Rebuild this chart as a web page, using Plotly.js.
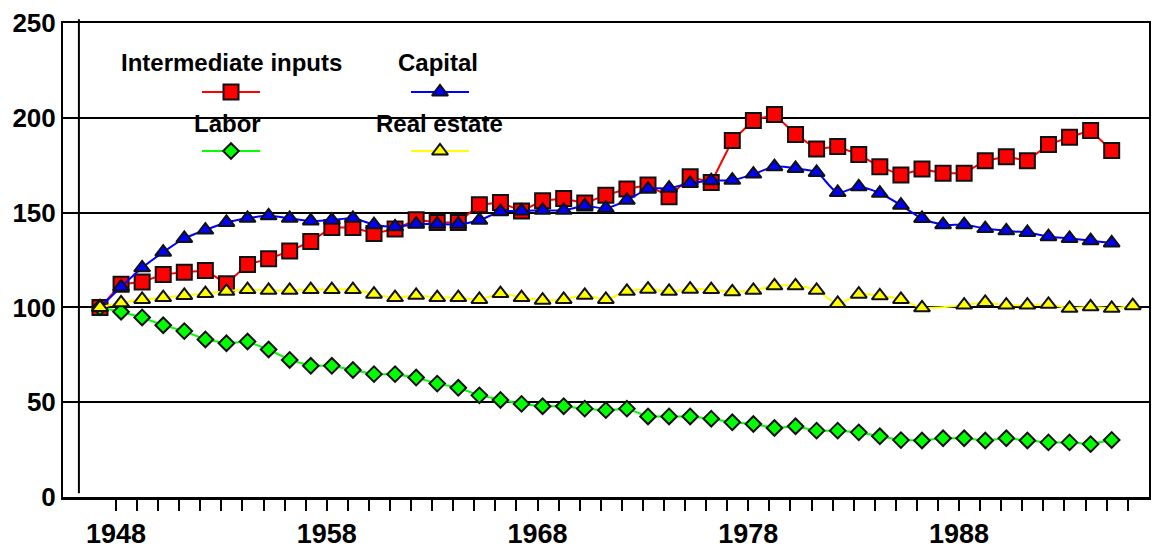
<!DOCTYPE html>
<html>
<head>
<meta charset="utf-8">
<script src="https://cdn.plot.ly/plotly-3.0.1.min.js"></script>
<style>
  html, body { margin: 0; padding: 0; background: #ffffff; }
  #chart { width: 1155px; height: 559px; }
</style>
</head>
<body>
<div id="chart"></div>
<script>
// ---------------- DATA ----------------
const years = [1948, 1949, 1950, 1951, 1952, 1953, 1954, 1955, 1956, 1957,
               1958, 1959, 1960, 1961, 1962, 1963, 1964, 1965, 1966, 1967,
               1968, 1969, 1970, 1971, 1972, 1973, 1974, 1975, 1976, 1977,
               1978, 1979, 1980, 1981, 1982, 1983, 1984, 1985, 1986, 1987,
               1988, 1989, 1990, 1991, 1992, 1993, 1994, 1995, 1996];

const intermediateInputs = [100, 112.2, 113.4, 117.4, 118.6, 119.5, 112.5, 122.6, 125.6, 129.7,
                            134.8, 142.2, 142.2, 139.0, 141.3, 146.2, 144.8, 144.8, 154.2, 155.3,
                            150.9, 156.2, 157.4, 155.0, 159.2, 162.4, 164.5, 158.3, 168.9, 165.9,
                            188.0, 198.6, 201.8, 191.2, 183.6, 184.8, 180.6, 174.2, 169.8, 173.0,
                            170.8, 170.8, 177.4, 179.5, 177.4, 185.9, 189.8, 193.3, 182.7];

const capital = [100, 110.8, 120.9, 129.1, 136.4, 140.8, 144.8, 147.0, 148.3, 147.0,
                 145.6, 146.0, 147.0, 143.6, 142.5, 143.9, 143.9, 143.9, 146.0, 150.5,
                 150.9, 151.2, 151.2, 153.5, 152.3, 156.5, 162.4, 162.9, 165.4, 166.8,
                 167.1, 170.3, 174.2, 173.3, 171.2, 160.6, 163.6, 160.2, 153.9, 146.9,
                 143.6, 143.6, 141.6, 140.4, 139.5, 137.3, 136.4, 135.2, 134.0];

const labor = [100, 97.7, 94.7, 90.6, 87.5, 83.1, 81.1, 82.0, 77.8, 72.3,
               69.2, 69.2, 67.0, 64.8, 64.8, 63.0, 59.8, 57.6, 53.6, 51.2,
               49.1, 47.9, 47.9, 46.6, 45.8, 46.6, 42.5, 42.5, 42.5, 41.3,
               39.4, 38.5, 36.4, 37.3, 35.0, 35.0, 34.1, 32.0, 30.0, 29.8,
               31.0, 31.0, 29.8, 31.0, 29.8, 28.8, 28.8, 27.9, 30.1];

const realEstateYears = [1948, 1949, 1950, 1951, 1952, 1953, 1954, 1955, 1956, 1957,
                         1958, 1959, 1960, 1961, 1962, 1963, 1964, 1965, 1966, 1967,
                         1968, 1969, 1970, 1971, 1972, 1973, 1974, 1975, 1976, 1977,
                         1978, 1979, 1980, 1981, 1982, 1983, 1984, 1985, 1986, 1987,
                         1989, 1990, 1991, 1992, 1993, 1994, 1995, 1996, 1997];

const realEstate = [100, 102.4, 104.2, 105.2, 106.3, 107.3, 108.5, 109.4, 109.0, 109.0,
                    109.4, 109.4, 109.4, 107.0, 105.2, 106.4, 105.2, 105.2, 104.2, 107.3,
                    105.2, 103.8, 104.2, 106.4, 104.2, 108.5, 109.6, 108.5, 109.6, 109.4,
                    108.2, 109.0, 111.4, 111.4, 109.0, 102.1, 107.0, 106.1, 104.2, 99.8,
                    101.2, 102.6, 101.2, 101.2, 101.6, 99.5, 100.3, 99.5, 100.9];

const seriesNames = ['Intermediate inputs', 'Capital', 'Labor', 'Real estate'];
const labeledYears = [1948, 1958, 1968, 1978, 1988];
const yTicks = [0, 50, 100, 150, 200, 250];

// ---------------- STYLE ----------------
const FONT = 'Arial, "Liberation Sans", Helvetica, sans-serif';
const OUTLINE = '#111111';
const TICK_SHIFT = 0.76;   // category tick marks sit a little to the left of the next point

const styles = [
  { color: '#FF0000', symbol: 'square',      size: 15, shape: 'linear' },
  { color: '#0000FF', symbol: 'triangle-up', size: 14, shape: 'spline' },
  { color: '#00FF00', symbol: 'diamond',     size: 12, shape: 'linear' },
  { color: '#FFFF00', symbol: 'triangle-up', size: 14, shape: 'spline' }
];
const xs = [years, years, years, realEstateYears];
const ys = [intermediateInputs, capital, labor, realEstate];

const traces = [];
for (let i = 0; i < 4; i++) {
  const s = styles[i];
  traces.push({
    type: 'scatter', mode: 'lines+markers', name: seriesNames[i],
    x: xs[i], y: ys[i],
    line: { color: s.color, width: 2, shape: s.shape, smoothing: 0.8 },
    marker: { symbol: s.symbol, size: s.size, color: s.color, opacity: 1,
              line: { color: OUTLINE, width: 2 } },
    cliponaxis: false,
    showlegend: false
  });
}

// ---- Legend (text above the symbol), drawn on a hidden overlay axis in pixel-like units ----
const legendPos = [
  { tx: 231, ty: 62,  ly: 92 },
  { tx: 438, ty: 62,  ly: 92 },
  { tx: 227, ty: 123, ly: 151 },
  { tx: 439, ty: 123, ly: 151 }
];
const keyCenters = [231, 440, 231, 440];
const annotations = [];
for (let i = 0; i < 4; i++) {
  const s = styles[i], p = legendPos[i], c = keyCenters[i];
  traces.push({
    type: 'scatter', mode: 'lines', xaxis: 'x2', yaxis: 'y2',
    x: [c - 29, c + 29], y: [p.ly, p.ly],
    line: { color: s.color, width: 2 },
    showlegend: false, hoverinfo: 'skip', cliponaxis: false
  });
  traces.push({
    type: 'scatter', mode: 'markers', xaxis: 'x2', yaxis: 'y2',
    x: [c], y: [p.ly],
    marker: { symbol: s.symbol, size: s.size, color: s.color, opacity: 1,
              line: { color: OUTLINE, width: 2 } },
    showlegend: false, hoverinfo: 'skip', cliponaxis: false
  });
  annotations.push({
    xref: 'x2', yref: 'y2', x: p.tx, y: p.ty, text: seriesNames[i], showarrow: false,
    xanchor: 'center', yanchor: 'middle',
    font: { family: FONT, size: 24, color: '#000', weight: 'bold' }
  });
}

const tickVals = years.map(y => y + TICK_SHIFT);
const tickText = years.map(y => labeledYears.includes(y) ? String(y) : '');

const layout = {
  width: 1155, height: 559,
  margin: { l: 63, r: 6, t: 23, b: 62 },
  paper_bgcolor: '#ffffff', plot_bgcolor: '#ffffff',
  showlegend: false,
  xaxis: {
    range: [1946.245, 1997.77],
    tickmode: 'array', tickvals: tickVals, ticktext: tickText,
    ticks: 'outside', ticklen: 11, tickwidth: 2, tickcolor: '#000',
    showgrid: false, zeroline: false,
    showline: true, linecolor: '#000', linewidth: 2.5, mirror: true,
    tickfont: { family: FONT, size: 27, color: '#000', weight: 'bold' },
    ticklabelstandoff: 0
  },
  yaxis: {
    range: [0, 250], tickmode: 'array', tickvals: yTicks,
    ticks: '', showgrid: true, gridcolor: '#000', gridwidth: 2,
    zeroline: false, showline: true, linecolor: '#000', linewidth: 2, mirror: true,
    tickfont: { family: FONT, size: 26, color: '#000', weight: 'bold' },
    ticklabelstandoff: 0
  },
  xaxis2: { overlaying: 'x', range: [63, 1149], visible: false, fixedrange: true },
  yaxis2: { overlaying: 'y', range: [497, 23], visible: false, fixedrange: true },
  shapes: [
    { type: 'line', xref: 'x', yref: 'paper', x0: 1947, x1: 1947, y0: 0.008, y1: 1.008,
      line: { color: '#000', width: 2 } }
  ],
  annotations: annotations
};

Plotly.newPlot('chart', traces, layout, { staticPlot: true, displayModeBar: false });
</script>
</body>
</html>
